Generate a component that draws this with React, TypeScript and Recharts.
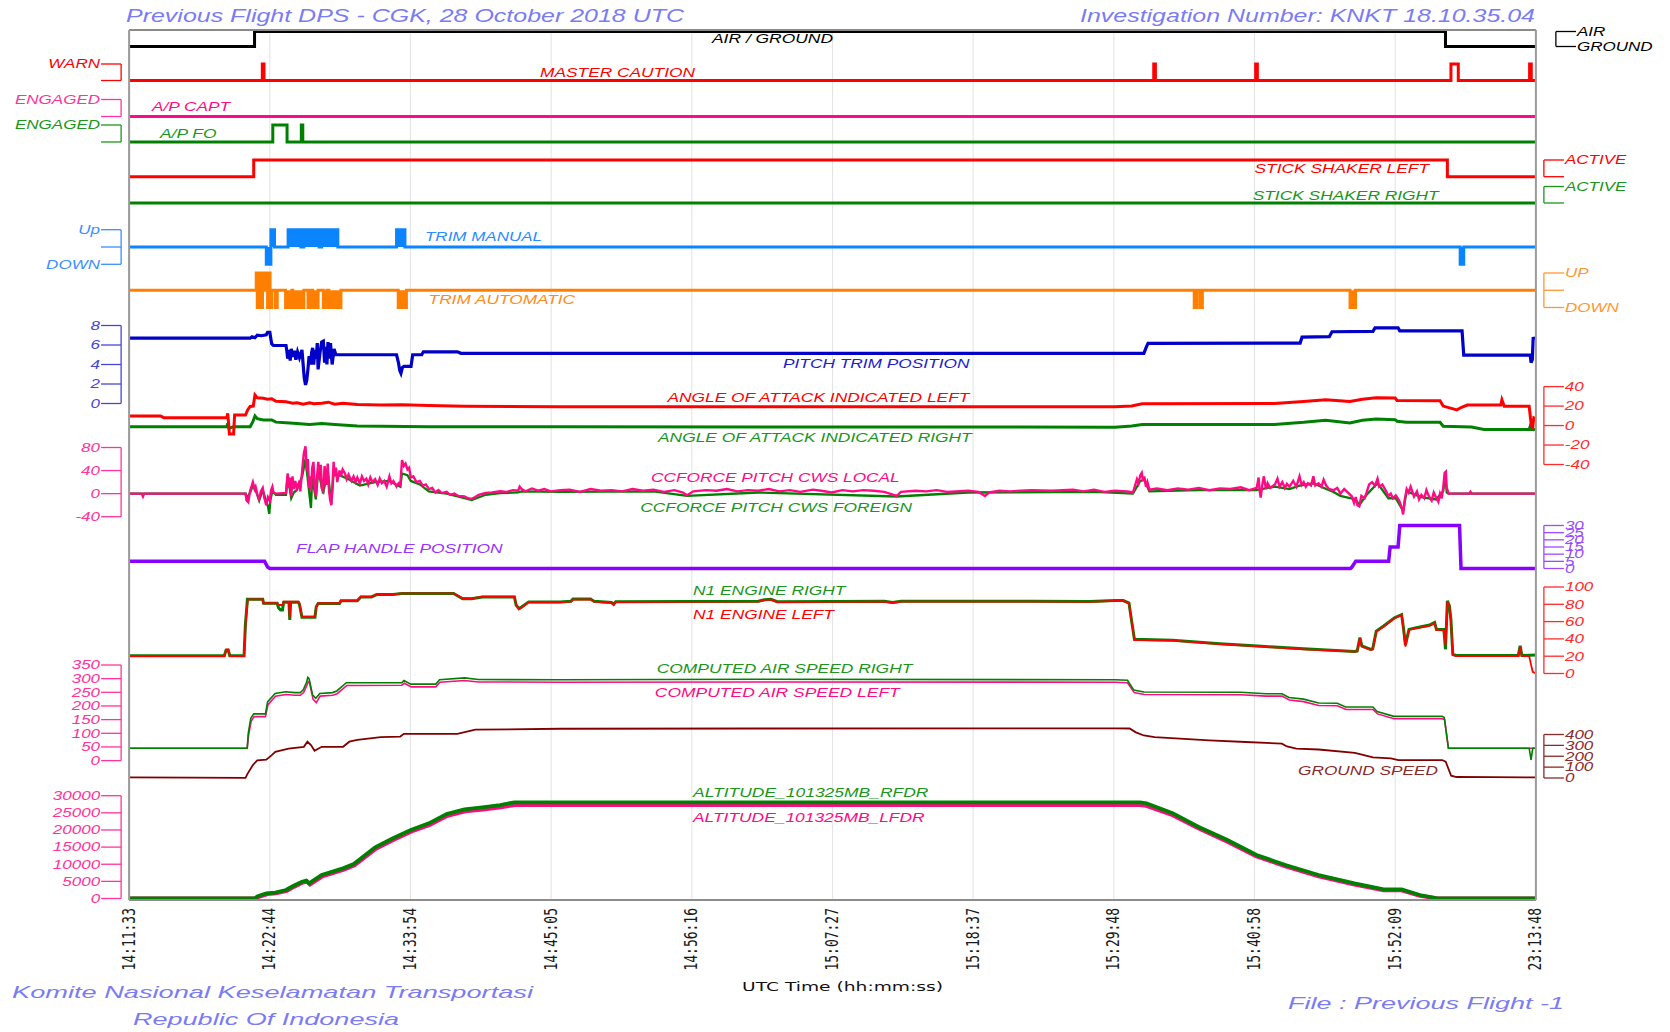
import React from 'react';
import { ComposedChart, Line, Area, XAxis, YAxis, CartesianGrid, ReferenceLine } from 'recharts';

// ---------------- time axis (seconds after 14:11:33) ----------------
const T_END = 6707;
const TIME_TICKS = [0, 671, 1341, 2012, 2683, 3354, 4024, 4695, 5365, 6036, 6707];
const TIME_LABELS = ['14:11:33', '14:22:44', '14:33:54', '14:45:05', '14:56:16', '15:07:27', '15:18:37', '15:29:48', '15:40:58', '15:52:09', '23:13:48'];

// ---------------- discrete parameters [t, value] ----------------
const AIR_GROUND = [[0, 0], [598, 1], [6276, 0], [6707, 0]];
const MASTER_CAUTION = [[0, 0], [635, 1], [643, 0], [4885, 1], [4893, 0], [5371, 1], [5379, 0], [6302, 1], [6337, 0], [6677, 1], [6685, 0], [6707, 0]];
const AP_CAPT = [[0, 0], [6707, 0]];
const AP_FO = [[0, 0], [685, 1], [753, 0], [821, 1], [828, 0], [6707, 0]];
const SHAKER_LEFT = [[0, 0], [594, 1], [6285, 0], [6707, 0]];
const SHAKER_RIGHT = [[0, 0], [6707, 0]];
const TRIM_MANUAL = [[0, 0], [654, -1], [676, 1], [693, 0], [758, 1], [819, 0], [833, 1], [906, 0], [918, 1], [995, 0], [1275, 1], [1315, 0], [6346, -1], [6363, 0], [6707, 0]];
const TRIM_AUTO = [[0, 0], [606, 1], [611, -1], [616, 1], [620, 0], [625, 1], [630, -1], [636, 1], [642, 0], [654, 1], [660, -1], [666, 1], [672, -1], [679, 0], [696, -1], [706, 0], [746, -1], [776, 0], [780, -1], [833, 0], [853, -1], [867, 0], [875, -1], [901, 0], [926, -1], [943, 0], [952, -1], [1010, 0], [1283, -1], [1322, 0], [5078, -1], [5090, 0], [5105, -1], [5117, 0], [5821, -1], [5847, 0], [6707, 0]];

// ---------------- analog parameters [t, value] ----------------
const PITCH_TRIM = [[0, 6.7], [577, 6.7], [586, 6.85], [600, 6.75], [611, 7.0], [630, 6.95], [654, 7.05], [660, 7.3], [671, 7.3], [676, 6.6], [680, 6.1], [688, 5.95], [748, 5.95], [752, 5.4], [756, 4.6], [762, 5.5], [768, 4.4], [773, 5.6], [780, 4.8], [788, 5.4], [795, 4.5], [803, 5.3], [812, 4.7], [824, 5.5], [829, 4.2], [835, 2.6], [841, 1.9], [847, 2.4], [853, 3.6], [858, 4.85], [866, 4.0], [870, 5.2], [875, 5.7], [880, 4.0], [886, 5.5], [892, 4.6], [897, 6.2], [901, 3.5], [910, 5.2], [918, 6.3], [926, 6.4], [932, 4.2], [938, 5.8], [943, 4.0], [948, 6.3], [955, 4.6], [960, 6.2], [968, 4.0], [977, 5.6], [986, 5.0], [1275, 5.0], [1284, 4.2], [1290, 3.4], [1296, 3.1], [1303, 3.7], [1310, 3.8], [1344, 3.8], [1352, 5.0], [1395, 5.0], [1403, 5.3], [1565, 5.3], [1582, 5.15], [4838, 5.15], [4850, 5.8], [4858, 6.17], [5583, 6.2], [5592, 6.8], [5722, 6.85], [5735, 7.36], [5930, 7.4], [5940, 7.75], [6050, 7.75], [6058, 7.45], [6355, 7.45], [6363, 4.97], [6680, 4.97], [6684, 4.19], [6690, 4.5], [6694, 6.68], [6707, 6.7]];
const AOA_LEFT = [[0, 9.8], [150, 9.8], [165, 8.1], [420, 8.1], [466, 8.0], [470, 12.5], [474, 3], [478, -8.7], [498, -8.7], [503, 10.8], [555, 10.8], [565, 16], [577, 19.6], [592, 20], [600, 31.3], [611, 28.5], [640, 28], [660, 27], [680, 27.5], [700, 25], [748, 24.5], [780, 23], [800, 23.5], [830, 22], [860, 23.5], [880, 22.5], [918, 23], [950, 24], [980, 22], [1020, 23], [1088, 21.5], [1200, 21], [1300, 21.3], [1429, 20.5], [1600, 19.8], [2055, 19.4], [4700, 19.4], [4780, 20], [4830, 22.4], [5460, 22.6], [5600, 24.7], [5705, 26.4], [5820, 24.7], [5880, 27], [5945, 28.5], [6036, 28.2], [6045, 25.8], [6250, 25.5], [6265, 20], [6330, 16], [6350, 18.5], [6380, 21], [6540, 21], [6545, 26.4], [6556, 19.7], [6675, 19.7], [6681, 8], [6686, 0], [6692, -2], [6697, 8], [6707, 7]];
const AOA_RIGHT = [[0, -1.2], [466, -1.2], [470, 2.3], [476, -2.7], [498, -1.2], [577, -1.2], [590, 4], [600, 9.8], [611, 7], [640, 5.7], [680, 5.7], [700, 3.5], [748, 3], [800, 2.2], [860, 1], [918, 2], [980, 1.2], [1088, -0.5], [1429, -1.2], [2055, -1.2], [4700, -1.7], [4780, -0.5], [4830, 1], [5460, 1.2], [5600, 3.3], [5705, 5.4], [5820, 2.7], [5880, 5.4], [5945, 6.8], [6036, 6], [6045, 4.4], [6090, 3.4], [6250, 3.4], [6265, -0.7], [6400, -1.5], [6460, -4], [6675, -4], [6681, 0], [6688, -4], [6707, -4]];
const CCF_LOCAL = [[0, 0], [60, 0], [66, -5], [72, 0], [555, 0], [560, -12], [568, -15], [577, 5], [590, 20], [598, 8], [603, 12], [612, -2], [620, -10], [628, 4], [637, 10], [645, -8], [654, -20], [662, -6], [671, -12], [677, 6], [683, 12], [688, 2], [700, 0], [748, 1], [752, 20], [756, 35], [762, 10], [767, 28], [773, -5], [779, 30], [785, 8], [792, 22], [799, 10], [808, 18], [816, 4], [825, 40], [833, 70], [841, 82], [847, 40], [852, 60], [858, 10], [863, 30], [867, 5], [873, 45], [879, 55], [884, 20], [890, -5], [896, 30], [902, 55], [908, 25], [914, 50], [918, 10], [925, 5], [932, 48], [940, 15], [947, 52], [953, 5], [958, -10], [964, -20], [969, 10], [975, 55], [980, 30], [986, 45], [992, 20], [1003, 40], [1010, 30], [1018, 42], [1029, 35], [1037, 25], [1046, 33], [1060, 22], [1070, 30], [1080, 20], [1088, 28], [1100, 18], [1110, 30], [1120, 22], [1131, 26], [1140, 16], [1150, 28], [1160, 20], [1173, 25], [1185, 15], [1195, 26], [1205, 18], [1216, 22], [1228, 12], [1241, 30], [1250, 18], [1260, 22], [1275, 12], [1285, 18], [1293, 15], [1301, 58], [1310, 48], [1318, 52], [1327, 42], [1335, 45], [1343, 28], [1355, 30], [1370, 20], [1386, 22], [1400, 14], [1415, 16], [1429, 8], [1445, 10], [1460, 2], [1475, 6], [1490, 1], [1514, 3], [1530, -2], [1550, 0], [1570, -4], [1599, -5], [1615, -8], [1633, -9], [1650, -6], [1667, -2], [1700, 1], [1730, 2], [1769, 4], [1800, 3], [1830, 6], [1855, 5], [1862, 12], [1871, 8], [1890, 4], [1920, 9], [1950, 5], [1980, 8], [2010, 4], [2055, 6], [2100, 7], [2150, 3], [2200, 8], [2250, 5], [2300, 6], [2350, 4], [2400, 8], [2450, 5], [2500, 7], [2550, 3], [2600, 6], [2640, 2], [2660, -3], [2690, 4], [2750, 6], [2800, 5], [2850, 8], [2900, 4], [2950, 6], [3000, 5], [3050, 8], [3100, 4], [3150, 6], [3200, 3], [3260, 7], [3300, 5], [3350, 2], [3400, 6], [3450, 4], [3500, 6], [3550, 5], [3600, 3], [3645, -2], [3660, -4], [3680, 3], [3750, 5], [3800, 4], [3850, 6], [3900, 3], [4000, 5], [4050, 3], [4080, -4], [4100, 2], [4150, 5], [4200, 4], [4300, 6], [4400, 5], [4500, 7], [4550, 4], [4600, 7], [4650, 3], [4700, 5], [4760, 4], [4786, 2], [4794, 12], [4805, 25], [4812, 18], [4821, 32], [4828, 36], [4834, 22], [4840, 30], [4848, 12], [4855, 20], [4864, 7], [4900, 9], [4950, 6], [5000, 9], [5050, 7], [5100, 10], [5150, 6], [5200, 9], [5250, 8], [5300, 11], [5340, 6], [5376, 10], [5385, 28], [5390, 5], [5395, -7], [5402, 14], [5410, 30], [5420, 8], [5428, 18], [5440, 10], [5463, 16], [5475, 26], [5485, 12], [5498, 20], [5510, 10], [5520, 17], [5532, 12], [5550, 22], [5565, 12], [5580, 30], [5590, 15], [5600, 20], [5610, 12], [5620, 18], [5635, 14], [5646, 30], [5655, 14], [5671, 18], [5685, 12], [5695, 24], [5707, 14], [5720, 8], [5742, 6], [5760, 10], [5775, 0], [5793, 8], [5810, 2], [5830, -5], [5840, -16], [5848, -6], [5856, -20], [5865, -22], [5875, -4], [5890, -8], [5900, 2], [5912, 16], [5926, 20], [5940, 14], [5952, 26], [5960, 12], [5975, 16], [5990, 6], [6004, -4], [6015, 0], [6025, -8], [6039, -3], [6055, -12], [6068, -25], [6074, -36], [6082, -10], [6091, 8], [6100, 2], [6110, 12], [6126, -5], [6140, 4], [6150, -10], [6161, -2], [6175, -8], [6185, 6], [6196, -4], [6210, -12], [6220, 2], [6230, -6], [6242, -14], [6250, 0], [6258, -8], [6265, 10], [6272, 36], [6278, 38], [6282, 10], [6291, 0], [6390, 0], [6395, 3], [6400, 0], [6707, 0]];
const CCF_FOREIGN = [[0, 0], [555, 0], [560, -8], [577, 2], [590, 14], [603, 6], [620, -12], [637, 6], [654, -14], [662, -22], [668, -35], [674, -10], [683, 4], [700, -2], [748, -2], [756, 30], [773, -8], [785, 2], [799, 6], [825, 30], [841, 60], [858, 4], [867, -25], [873, 30], [890, -10], [902, 40], [925, 0], [947, 40], [964, -18], [975, 35], [1003, 32], [1046, 25], [1100, 14], [1173, 20], [1241, 22], [1293, 12], [1301, 35], [1327, 32], [1343, 22], [1386, 16], [1429, 4], [1514, 0], [1599, -8], [1633, -11], [1700, -2], [1769, 1], [1855, 2], [1871, 4], [2055, 3], [2500, 4], [2660, -4], [3000, 2], [3660, -5], [4000, 2], [4600, 3], [4786, 0], [4821, 22], [4840, 24], [4864, 4], [5100, 6], [5376, 6], [5428, 10], [5463, 12], [5532, 8], [5580, 14], [5646, 18], [5707, 8], [5742, 3], [5775, -4], [5848, -10], [5865, -20], [5900, -2], [5952, 18], [6004, -8], [6039, -8], [6074, -30], [6091, 4], [6161, -6], [6230, -10], [6265, 4], [6275, 30], [6282, 2], [6291, 0], [6707, 0]];
const FLAP = [[0, 5], [646, 5], [660, 1], [671, 0], [5823, 0], [5830, 1], [5848, 5], [6005, 5], [6012, 15], [6050, 15], [6058, 30], [6343, 30], [6350, 0], [6707, 0]];
const N1_LEFT = [[0, 20.2], [454, 20.2], [464, 28], [474, 28], [480, 20.2], [548, 20.2], [556, 60], [566, 85.8], [637, 85.8], [641, 81.2], [706, 81.2], [712, 79.2], [731, 79.2], [737, 83], [762, 83], [766, 63.8], [770, 83], [807, 83], [812, 81], [824, 65.7], [886, 65.7], [892, 77.2], [901, 81.2], [1003, 81.2], [1010, 84.2], [1088, 84.2], [1105, 88.8], [1156, 88.8], [1180, 91.5], [1258, 91.5], [1300, 92.7], [1547, 92.7], [1590, 87], [1633, 86.9], [1684, 88.8], [1837, 88.8], [1845, 80], [1858, 74.2], [1871, 76], [1905, 82.3], [2055, 82.3], [2106, 83], [2116, 85.5], [2200, 85.8], [2216, 83], [2300, 81.5], [2310, 79.5], [2320, 82.5], [3000, 83], [3030, 85], [3060, 85.5], [3090, 82.5], [3600, 83], [3640, 81.5], [3680, 83], [4310, 83], [4580, 82.8], [4700, 84], [4740, 84], [4767, 81], [4780, 60], [4793, 38.7], [4975, 37.9], [5200, 34], [5400, 31], [5600, 28], [5842, 25.2], [5855, 25.5], [5868, 40.7], [5877, 31], [5920, 27.2], [5929, 28], [5946, 48.3], [5981, 54.1], [6033, 63.8], [6067, 67.6], [6076, 50], [6085, 31], [6102, 50.3], [6137, 52.3], [6200, 55], [6224, 58], [6233, 50.3], [6268, 50], [6276, 33], [6285, 83], [6295, 77.2], [6302, 60], [6311, 21.4], [6328, 20.2], [6623, 20.2], [6632, 31], [6640, 20.2], [6675, 20.2], [6684, 10], [6692, 2], [6707, 0.2]];
const N1_RIGHT = [[0, 20.5], [454, 20.5], [462, 27], [472, 27], [480, 20.5], [548, 20.5], [554, 55], [564, 85.8], [637, 85.8], [641, 81.2], [706, 81.2], [712, 76], [722, 73.4], [731, 73.4], [737, 82.5], [762, 82.5], [766, 62], [770, 82.5], [807, 82.5], [812, 80], [824, 65], [886, 65], [892, 77], [901, 81], [1003, 81], [1010, 84], [1088, 84], [1105, 88.5], [1156, 88.5], [1180, 91.2], [1258, 91.2], [1300, 92.5], [1547, 92.5], [1590, 86.5], [1633, 86.5], [1684, 88.5], [1837, 88.5], [1845, 79], [1858, 75], [1871, 77], [1905, 82.8], [2055, 82.8], [2106, 83.5], [2116, 86], [2200, 86], [2216, 83.5], [2300, 82], [2310, 80], [2320, 83], [3000, 83.5], [3030, 85.3], [3060, 85.8], [3090, 83], [3600, 83.5], [3640, 82], [3680, 83.5], [4310, 83.5], [4580, 83.3], [4700, 84.3], [4740, 84.3], [4767, 81.5], [4780, 60], [4793, 39.5], [4975, 38.5], [5200, 34.5], [5400, 31.5], [5600, 28.5], [5842, 25.5], [5855, 26], [5868, 41.5], [5877, 32], [5920, 27.8], [5929, 28.5], [5946, 49], [5981, 55], [6033, 64.5], [6067, 68], [6076, 52], [6085, 33], [6102, 51], [6137, 53], [6200, 56], [6224, 59], [6233, 51], [6268, 51], [6272, 40], [6276, 28], [6285, 84], [6295, 78], [6302, 62], [6311, 22], [6328, 20.8], [6623, 20.8], [6632, 32], [6640, 20.8], [6707, 21.5]];
const CAS_RIGHT = [[0, 45], [563, 45], [568, 100], [580, 155], [594, 171], [650, 171], [660, 215], [696, 246], [746, 252], [790, 249], [816, 249], [830, 259], [845, 285], [852, 305], [858, 300], [875, 240], [890, 228], [909, 246], [970, 249], [990, 255], [1036, 285], [1071, 285], [1300, 285], [1310, 293], [1343, 280], [1462, 280], [1480, 296], [1599, 303], [1665, 297], [2055, 296], [3000, 298], [4700, 296], [4760, 294], [4790, 258], [4838, 251], [5300, 250], [5420, 245], [5496, 245], [5530, 231], [5600, 225], [5671, 211], [5760, 210], [5800, 196], [5930, 196], [5950, 180], [6030, 162], [6260, 162], [6270, 158], [6290, 45], [6675, 45], [6684, 3], [6692, 45], [6707, 45]];
const CAS_LEFT = [[0, 45], [563, 45], [570, 95], [582, 145], [596, 161], [650, 161], [662, 205], [698, 236], [748, 242], [790, 239], [816, 239], [832, 249], [847, 275], [854, 289], [860, 285], [877, 225], [892, 212], [911, 236], [970, 239], [992, 245], [1038, 275], [1071, 275], [1300, 276], [1312, 283], [1345, 270], [1462, 270], [1482, 287], [1599, 293], [1665, 288], [2055, 287], [3000, 288], [4700, 287], [4760, 285], [4792, 249], [4840, 242], [5300, 241], [5420, 236], [5496, 236], [5532, 222], [5600, 216], [5671, 202], [5760, 201], [5802, 187], [5930, 187], [5952, 171], [6030, 153], [6260, 153], [6272, 150], [6290, 45], [6707, 45]];
const GROUND_SPEED = [[0, 6], [300, 4], [555, 2], [565, 40], [590, 120], [611, 162], [654, 169], [680, 210], [697, 240], [760, 270], [833, 287], [850, 334], [868, 300], [884, 250], [918, 287], [1020, 287], [1050, 334], [1088, 350], [1200, 375], [1293, 381], [1310, 406], [1565, 406], [1650, 444], [2055, 453], [3000, 455], [4700, 457], [4770, 455], [4800, 420], [4838, 391], [4889, 376], [5150, 346], [5323, 331], [5496, 316], [5520, 290], [5565, 271], [5671, 262], [5844, 232], [5930, 190], [6016, 180], [6051, 165], [6260, 165], [6277, 150], [6303, 21], [6329, 9], [6500, 8], [6707, 5]];
const ALT_RFDR = [[0, 0], [600, 0], [611, 600], [654, 1520], [697, 1700], [748, 2480], [782, 3650], [824, 4900], [845, 5200], [858, 4430], [918, 6860], [1020, 8800], [1071, 10070], [1173, 14940], [1258, 17560], [1343, 20000], [1429, 21940], [1514, 24660], [1599, 26030], [1684, 26610], [1769, 27280], [1837, 28070], [4820, 28070], [4850, 27800], [4975, 24900], [5097, 20950], [5236, 17070], [5375, 12690], [5513, 9780], [5671, 6860], [5842, 4430], [5981, 2680], [6067, 2680], [6154, 1020], [6241, 0], [6707, 0]];
const ALT_LFDR = [[0, 0], [600, 0], [615, 400], [660, 1300], [700, 1500], [752, 2250], [786, 3400], [828, 4650], [848, 4950], [862, 4100], [922, 6500], [1024, 8450], [1075, 9700], [1177, 14550], [1262, 17150], [1347, 19600], [1433, 21500], [1518, 24150], [1603, 25450], [1688, 26000], [1773, 26650], [1841, 27300], [4820, 27300], [4850, 27050], [4975, 24300], [5097, 20500], [5236, 16600], [5375, 12300], [5513, 9400], [5671, 6500], [5842, 4100], [5981, 2400], [6067, 2400], [6154, 800], [6241, 0], [6707, 0]];

// ---------------- colours ----------------
const RED = '#ff0000';
const GREEN = '#008000';
const PINK = '#ff0a85';
const PINK_AX = '#ff3399';
const BLUE = '#0a84ff';
const ORANGE = '#ff8000';
const NAVY = '#0000c8';
const NAVY_AX = '#4646dc';
const PURPLE = '#8800ff';
const PURPLE_AX = '#9a4dff';
const MAROON = '#800000';
const MAROON_AX = '#8b2a2a';
const TITLE_BLUE = '#7b7bf4';
const FONT = "'Liberation Sans', Arial, Helvetica, sans-serif";

// ---------------- layout (page pixels) ----------------
const PAGE_PAD = 8;
const CHART_W = 1654;
const CHART_H = 1016;
const WRAP_H = 1024;
const PLOT_L = 129;
const PLOT_R = 1536;
const PLOT_T = 30;
const PLOT_B = 900;
const GAP = 8;
const FAR_GAP = 20;
const X_AXIS_H = 80;
const EPS = 0.01;
const MARGIN = {
  top: PLOT_T - PAGE_PAD,
  left: PLOT_L - PAGE_PAD - GAP,
  right: PAGE_PAD + CHART_W - PLOT_R - FAR_GAP,
  bottom: PAGE_PAD + CHART_H - PLOT_B - X_AXIS_H,
};
const SEC_PER_PX = T_END / (PLOT_R - PLOT_L);
const X_LEFT_BR = -GAP * SEC_PER_PX;
const X_RIGHT_BR = T_END + GAP * SEC_PER_PX;
const X_FAR_BR = T_END + FAR_GAP * SEC_PER_PX;

const MINOR_X = Array.from({ length: 101 }, (_, i) => (i * T_END) / 100);
const MINOR_Y = Array.from({ length: 101 }, (_, i) => i);
const GRID_Y = Array.from({ length: 21 }, (_, i) => i);

// axis scales: value anchors placed at page y positions (lo = lower value)
const AXES = [
  { id: 'b_mc', side: 'left', color: RED, lo: [0, 80.5], hi: [1, 64], major: [0, 1], labels: { '1': 'WARN' } },
  { id: 'b_apc', side: 'left', color: PINK_AX, lo: [0, 116.5], hi: [1, 99.5], major: [0, 1], labels: { '1': 'ENGAGED' } },
  { id: 'b_apf', side: 'left', color: '#1a961a', lo: [0, 142], hi: [1, 125], major: [0, 1], labels: { '1': 'ENGAGED' } },
  { id: 'b_ssl', side: 'right', color: RED, lo: [0, 176.7], hi: [1, 160], major: [0, 1], labels: { '1': 'ACTIVE' } },
  { id: 'b_ssr', side: 'right', color: '#1a961a', lo: [0, 203], hi: [1, 186.5], major: [0, 1], labels: { '1': 'ACTIVE' } },
  { id: 'b_tm', side: 'left', color: '#3a8fff', lo: [-1, 264.3], hi: [1, 229.7], major: [-1, 0, 1], labels: { '1': 'Up', '-1': 'DOWN' } },
  { id: 'b_ta', side: 'right', color: '#ff9633', lo: [-1, 307.5], hi: [1, 273], major: [-1, 0, 1], labels: { '1': 'UP', '-1': 'DOWN' } },
  { id: 'b_pt', side: 'left', color: NAVY_AX, lo: [0, 403.5], hi: [8, 325.5], major: [0, 2, 4, 6, 8], minor: [1, 3, 5, 7] },
  { id: 'b_aoa', side: 'right', color: '#ff2a2a', lo: [-40, 464.5], hi: [40, 386.6], major: [-40, -20, 0, 20, 40], minor: [-30, -10, 10, 30] },
  { id: 'b_ccf', side: 'left', color: PINK_AX, lo: [-40, 516.7], hi: [80, 447.5], major: [-40, 0, 40, 80], minor: [-20, 20, 60] },
  { id: 'b_flap', side: 'right', color: PURPLE_AX, lo: [0, 568.5], hi: [30, 525.5], major: [0, 5, 10, 15, 20, 25, 30] },
  { id: 'b_n1', side: 'right', color: '#ff2a2a', lo: [0, 673.5], hi: [100, 587], major: [0, 20, 40, 60, 80, 100], minor: [10, 30, 50, 70, 90] },
  { id: 'b_cas', side: 'left', color: PINK_AX, lo: [0, 760.6], hi: [350, 665], major: [0, 50, 100, 150, 200, 250, 300, 350], minor: [25, 75, 125, 175, 225, 275, 325] },
  { id: 'b_gs', side: 'right', color: MAROON_AX, lo: [0, 778], hi: [400, 734.5], major: [0, 100, 200, 300, 400], minor: [50, 150, 250, 350] },
  { id: 'b_alt', side: 'left', color: PINK_AX, lo: [0, 898.5], hi: [30000, 795.7], major: [0, 5000, 10000, 15000, 20000, 25000, 30000], minor: [2500, 7500, 12500, 17500, 22500, 27500] },
];
const FAR_AXES = [
  { id: 'z_ag', side: 'right', far: true, color: '#000000', lo: [0, 46.5], hi: [1, 31.5], major: [0, 1], labels: { '1': 'AIR', '0': 'GROUND' } },
];

const domainOf = (a: any): [number, number] => {
  const [v0, y0] = a.lo;
  const [v1, y1] = a.hi;
  const k = (v1 - v0) / (y0 - y1);
  return [v0 - (PLOT_B - y0) * k, v1 + (y1 - PLOT_T) * k];
};

const makeTick = (a: any) => (p: any) => {
  const v = p && p.payload ? p.payload.value : undefined;
  const txt = a.labels ? a.labels[String(v)] || '' : String(v);
  if (!txt) return <g />;
  const x = p.x;
  return (
    <text
      x={x}
      y={p.y}
      dy="0.36em"
      textAnchor={a.side === 'left' ? 'end' : 'start'}
      fill={a.color}
      fontFamily={FONT}
      fontStyle="italic"
      fontSize={12}
      transform={`translate(${x} 0) scale(1.42 1) translate(${-x} 0)`}
    >
      {txt}
    </text>
  );
};

const TimeTick = (p: any) => {
  const i = TIME_TICKS.indexOf(p && p.payload ? p.payload.value : -1);
  return (
    <text
      transform={`translate(${p.x} ${p.y}) scale(1.3 1) rotate(-90)`}
      textAnchor="end"
      dominantBaseline="central"
      fontFamily="'DejaVu Sans Mono', monospace"
      fontSize={13}
      fill="#1a1a1a"
    >
      {i >= 0 ? TIME_LABELS[i] : ''}
    </text>
  );
};

const renderAxis = (a: any) => {
  const dom = domainOf(a);
  const out = [
    <YAxis
      key={a.id}
      yAxisId={a.id}
      orientation={a.side}
      width={EPS}
      type="number"
      domain={dom}
      allowDataOverflow
      ticks={a.major}
      interval={0}
      axisLine={false}
      tickSize={20}
      tickMargin={1}
      tickLine={{ stroke: a.color, strokeWidth: 1.3 }}
      tick={makeTick(a)}
    />,
  ];
  if (a.minor) {
    out.push(
      <YAxis
        key={a.id + '_m'}
        yAxisId={a.id + '_m'}
        orientation={a.side}
        width={EPS}
        type="number"
        domain={dom}
        allowDataOverflow
        ticks={a.minor}
        interval={0}
        axisLine={false}
        tickSize={10}
        tick={false}
        tickLine={{ stroke: a.color, strokeWidth: 1.3 }}
      />
    );
  }
  return out;
};

const renderBracket = (a: any) => {
  const x = a.side === 'left' ? X_LEFT_BR : a.far ? X_FAR_BR : X_RIGHT_BR;
  const lo = Math.min(...a.major);
  const hi = Math.max(...a.major);
  return (
    <ReferenceLine
      key={'br_' + a.id}
      xAxisId="x"
      yAxisId={a.id}
      segment={[{ x, y: lo }, { x, y: hi }]}
      stroke={a.color}
      strokeWidth={1.3}
      ifOverflow="visible"
    />
  );
};

const pts = (arr: number[][]) => arr.map(([t, v]) => ({ t, v }));

const SERIES = [
  { data: AIR_GROUND, axis: 'z_ag', color: '#000000', w: 3, type: 'stepAfter' },
  { data: MASTER_CAUTION, axis: 'b_mc', color: RED, w: 3, type: 'stepAfter' },
  { data: AP_CAPT, axis: 'b_apc', color: PINK, w: 3.2, type: 'stepAfter' },
  { data: AP_FO, axis: 'b_apf', color: GREEN, w: 3, type: 'stepAfter' },
  { data: SHAKER_LEFT, axis: 'b_ssl', color: RED, w: 3, type: 'stepAfter' },
  { data: SHAKER_RIGHT, axis: 'b_ssr', color: GREEN, w: 3, type: 'stepAfter' },
  { data: PITCH_TRIM, axis: 'b_pt', color: NAVY, w: 3.2, type: 'linear' },
  { data: AOA_RIGHT, axis: 'b_aoa', color: GREEN, w: 3, type: 'linear' },
  { data: AOA_LEFT, axis: 'b_aoa', color: RED, w: 3, type: 'linear' },
  { data: CCF_FOREIGN, axis: 'b_ccf', color: GREEN, w: 2.3, type: 'linear' },
  { data: CCF_LOCAL, axis: 'b_ccf', color: PINK, w: 2.4, type: 'linear' },
  { data: FLAP, axis: 'b_flap', color: PURPLE, w: 3.5, type: 'linear' },
  { data: N1_RIGHT, axis: 'b_n1', color: GREEN, w: 3, type: 'linear' },
  { data: N1_LEFT, axis: 'b_n1', color: RED, w: 1.8, type: 'linear' },
  { data: CAS_LEFT, axis: 'b_cas', color: PINK, w: 1.6, type: 'linear' },
  { data: CAS_RIGHT, axis: 'b_cas', color: GREEN, w: 1.6, type: 'linear' },
  { data: GROUND_SPEED, axis: 'b_gs', color: MAROON, w: 1.8, type: 'linear' },
  { data: ALT_LFDR, axis: 'b_alt', color: PINK, w: 4, type: 'linear' },
  { data: ALT_RFDR, axis: 'b_alt', color: GREEN, w: 3.8, type: 'linear' },
];

const TRIMS = [
  { data: TRIM_MANUAL, axis: 'b_tm', color: BLUE },
  { data: TRIM_AUTO, axis: 'b_ta', color: ORANGE },
];

const TEXTS = [
  { s: 'Previous Flight DPS - CGK, 28 October 2018 UTC', x: 126, y: 22, w: 558, f: 17.5, c: TITLE_BLUE },
  { s: 'Investigation Number: KNKT 18.10.35.04', x: 1080, y: 22, w: 455, f: 17.5, c: TITLE_BLUE },
  { s: 'Komite Nasional Keselamatan Transportasi', x: 12, y: 998, w: 521, f: 17, c: TITLE_BLUE },
  { s: 'Republic Of Indonesia', x: 133, y: 1025, w: 266, f: 17, c: TITLE_BLUE },
  { s: 'File : Previous Flight -1', x: 1288, y: 1009, w: 276, f: 17, c: TITLE_BLUE },
  { s: 'AIR / GROUND', x: 712, y: 43, w: 121, f: 12.8, c: '#000000' },
  { s: 'MASTER CAUTION', x: 540, y: 77, w: 155, f: 12.8, c: RED },
  { s: 'A/P CAPT', x: 152, y: 110.5, w: 78, f: 12.8, c: PINK },
  { s: 'A/P FO', x: 160, y: 137.7, w: 56.5, f: 12.8, c: '#1a961a' },
  { s: 'STICK SHAKER LEFT', x: 1254.5, y: 172.7, w: 174.5, f: 12.8, c: RED },
  { s: 'STICK SHAKER RIGHT', x: 1252.7, y: 200, w: 186, f: 12.8, c: '#1a961a' },
  { s: 'TRIM MANUAL', x: 425, y: 240.7, w: 117, f: 12.8, c: '#2a8cff' },
  { s: 'TRIM AUTOMATIC', x: 428.6, y: 304, w: 146.5, f: 12.8, c: '#ff8c1a' },
  { s: 'PITCH TRIM POSITION', x: 783, y: 368.3, w: 186.4, f: 12.8, c: '#1c1cd0' },
  { s: 'ANGLE OF ATTACK INDICATED LEFT', x: 667.4, y: 401.7, w: 302, f: 12.8, c: RED },
  { s: 'ANGLE OF ATTACK INDICATED RIGHT', x: 658, y: 442.3, w: 313.7, f: 12.8, c: '#1a961a' },
  { s: 'CCFORCE PITCH CWS LOCAL', x: 651, y: 482, w: 248.7, f: 12.8, c: PINK },
  { s: 'CCFORCE PITCH CWS FOREIGN', x: 640.3, y: 512.3, w: 271.7, f: 12.8, c: '#1a961a' },
  { s: 'FLAP HANDLE POSITION', x: 296, y: 553, w: 206.7, f: 12.8, c: '#9933ff' },
  { s: 'N1 ENGINE RIGHT', x: 693, y: 595.3, w: 152.4, f: 12.8, c: '#1a961a' },
  { s: 'N1 ENGINE LEFT', x: 693, y: 619.3, w: 141, f: 12.8, c: RED },
  { s: 'COMPUTED AIR SPEED RIGHT', x: 656.7, y: 673.3, w: 255.7, f: 12.8, c: '#1a961a' },
  { s: 'COMPUTED AIR SPEED LEFT', x: 654.8, y: 697.3, w: 245, f: 12.8, c: PINK },
  { s: 'GROUND SPEED', x: 1298, y: 775, w: 140, f: 12.8, c: MAROON_AX },
  { s: 'ALTITUDE_101325MB_RFDR', x: 693, y: 796.7, w: 235.4, f: 12.8, c: '#1a961a' },
  { s: 'ALTITUDE_101325MB_LFDR', x: 693, y: 822.3, w: 231.6, f: 12.8, c: PINK },
];

export default function App() {
  return (
    <div style={{ position: 'relative', width: CHART_W, height: WRAP_H, background: '#ffffff' }}>
      <style>{'html{overflow:hidden;background:#ffffff}'}</style>
      <ComposedChart width={CHART_W} height={CHART_H} margin={MARGIN}>
        <CartesianGrid xAxisId="x" yAxisId="b_grid" stroke="#e2e2e2" strokeWidth={1} />
        <XAxis
          xAxisId="x"
          dataKey="t"
          type="number"
          domain={[0, T_END]}
          allowDataOverflow
          ticks={TIME_TICKS}
          interval={0}
          height={X_AXIS_H}
          tickLine={false}
          tickSize={0}
          tickMargin={8}
          axisLine={{ stroke: '#8c8c8c', strokeWidth: 2 }}
          tick={TimeTick}
        />
        <XAxis xAxisId="xb" type="number" domain={[0, T_END]} allowDataOverflow ticks={MINOR_X} interval={0} orientation="bottom" mirror height={EPS} axisLine={false} tick={false} tickSize={5} tickLine={{ stroke: '#a8a8a8' }} />
        <XAxis xAxisId="xt" type="number" domain={[0, T_END]} allowDataOverflow ticks={MINOR_X} interval={0} orientation="top" mirror height={EPS} axisLine={{ stroke: '#8a8a8a', strokeWidth: 2 }} tick={false} tickSize={5} tickLine={{ stroke: '#a8a8a8' }} />
        <YAxis yAxisId="a_dl" orientation="left" width={GAP} tick={false} tickLine={false} axisLine={false} />
        <YAxis yAxisId="a_dr" orientation="right" width={GAP} tick={false} tickLine={false} axisLine={false} />
        {AXES.flatMap(renderAxis)}
        <YAxis yAxisId="y_dr2" orientation="right" width={FAR_GAP - GAP} tick={false} tickLine={false} axisLine={false} />
        {FAR_AXES.flatMap(renderAxis)}
        <YAxis yAxisId="b_grid" hide width={0} type="number" domain={[0, 20]} ticks={GRID_Y} />
        <YAxis yAxisId="b_lm" orientation="left" mirror width={EPS} type="number" domain={[0, 100]} ticks={MINOR_Y} interval={0} tick={false} tickSize={5} tickLine={{ stroke: '#a8a8a8' }} axisLine={{ stroke: '#9a9a9a', strokeWidth: 2 }} />
        <YAxis yAxisId="b_rm" orientation="right" mirror width={EPS} type="number" domain={[0, 100]} ticks={MINOR_Y} interval={0} tick={false} tickSize={5} tickLine={{ stroke: '#a8a8a8' }} axisLine={{ stroke: '#9a9a9a', strokeWidth: 2 }} />
        {AXES.map(renderBracket)}
        {FAR_AXES.map(renderBracket)}
        {TRIMS.map((s, i) => (
          <Area
            key={'trim' + i}
            data={pts(s.data)}
            dataKey="v"
            xAxisId="x"
            yAxisId={s.axis}
            type="stepAfter"
            baseValue={0}
            stroke={s.color}
            strokeWidth={3}
            fill={s.color}
            fillOpacity={1}
            dot={false}
            activeDot={false}
            isAnimationActive={false}
          />
        ))}
        {SERIES.map((s, i) => (
          <Line
            key={'s' + i}
            data={pts(s.data)}
            dataKey="v"
            xAxisId="x"
            yAxisId={s.axis}
            type={s.type as any}
            stroke={s.color}
            strokeWidth={s.w}
            dot={false}
            activeDot={false}
            isAnimationActive={false}
          />
        ))}
      </ComposedChart>
      <svg
        width={1670}
        height={1032}
        style={{ position: 'absolute', left: -PAGE_PAD, top: -PAGE_PAD, pointerEvents: 'none', overflow: 'visible' }}
      >
        {TEXTS.map((t, i) => (
          <text
            key={'tx' + i}
            x={t.x}
            y={t.y}
            fill={t.c}
            fontFamily={FONT}
            fontStyle="italic"
            fontSize={t.f}
            textLength={t.w}
            lengthAdjust="spacingAndGlyphs"
          >
            {t.s}
          </text>
        ))}
        <text x={742} y={991} fill="#111111" fontFamily="'DejaVu Sans', sans-serif" fontSize={12} textLength={201} lengthAdjust="spacingAndGlyphs">
          UTC Time (hh:mm:ss)
        </text>
      </svg>
    </div>
  );
}
